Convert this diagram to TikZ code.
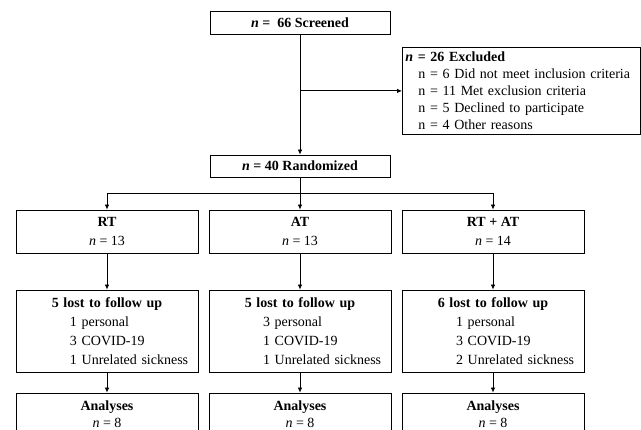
\documentclass[tikz,border=0pt]{standalone}
\usepackage{fontspec}
\setmainfont{Liberation Serif}
\usetikzlibrary{arrows.meta}

\newcommand{\headline}[1]{\makebox[182pt]{\textbf{#1}}}
\newcommand{\reason}[1]{\hspace*{54pt}#1}

\begin{document}
\begin{tikzpicture}[x=1pt, y=1pt,
    box/.style={draw, line width=0.8pt, inner sep=0pt, align=center,
        font=\fontsize{14}{19}\selectfont},
    lostbox/.style={box, text width=182, align=left, minimum height=82},
    anbox/.style={box, minimum width=182, minimum height=43,
        font=\fontsize{14}{17}\selectfont},
    arr/.style={-{Latex[length=5pt, width=4.5pt]}, line width=0.8pt}]
    \useasboundingbox (0,0) rectangle (641,-430);

    % screening and exclusion
    \node[box, minimum width=180, minimum height=23] (screen) at (300,-22.5)
        {\textbf{\textit{n} =\ \ 66 Screened}};
    \node[box, anchor=north west, minimum width=238, minimum height=87,
        text width=232, align=left, inner xsep=3pt,
        font=\fontsize{14}{17}\selectfont] (excl) at (402,-47)
        {\textbf{\textit{n} = 26 Excluded}\\
        \hspace*{13pt}n = 6 Did not meet inclusion criteria\\
        \hspace*{13pt}n = 11 Met exclusion criteria\\
        \hspace*{13pt}n = 5 Declined to participate\\
        \hspace*{13pt}n = 4 Other reasons};

    % randomisation
    \node[box, minimum width=180, minimum height=22] (rand) at (300,-166)
        {\textbf{\textit{n} = 40 Randomized}};

    \draw[arr] (screen) -- (rand);
    \coordinate (fork) at (screen.south |- excl.west);
    \draw[arr] (fork) -- (excl.west);

    % groups
    \node[box, minimum width=182, minimum height=43] (rt) at (107,-231.5)
        {\textbf{RT}\\ \textit{n} = 13};
    \node[box, minimum width=182, minimum height=43] (at) at (300,-231.5)
        {\textbf{AT}\\ \textit{n} = 13};
    \node[box, minimum width=182, minimum height=43] (rtat) at (493,-231.5)
        {\textbf{RT + AT}\\ \textit{n} = 14};

    % split to the three arms
    \coordinate (split) at (300,-193);
    \draw[line width=0.8pt] (rand) -- (split);
    \draw[line width=0.8pt] (rt.north |- split) -- (rtat.north |- split);
    \draw[arr] (rt.north |- split) -- (rt);
    \draw[arr] (split) -- (at);
    \draw[arr] (rtat.north |- split) -- (rtat);

    % lost to follow up
    \node[lostbox] (rtlost) at (107,-331)
        {\headline{5 lost to follow up}\\ \reason{1 personal}\\
        \reason{3 COVID-19}\\ \reason{1 Unrelated sickness}};
    \node[lostbox] (atlost) at (300,-331)
        {\headline{5 lost to follow up}\\ \reason{3 personal}\\
        \reason{1 COVID-19}\\ \reason{1 Unrelated sickness}};
    \node[lostbox] (rtatlost) at (493,-331)
        {\headline{6 lost to follow up}\\ \reason{1 personal}\\
        \reason{3 COVID-19}\\ \reason{2 Unrelated sickness}};

    \draw[arr] (rt) -- (rtlost);
    \draw[arr] (at) -- (atlost);
    \draw[arr] (rtat) -- (rtatlost);

    % analyses
    \node[anbox] (rtan) at (107,-414.5) {\textbf{Analyses}\\ \textit{n} = 8};
    \node[anbox] (atan) at (300,-414.5) {\textbf{Analyses}\\ \textit{n} = 8};
    \node[anbox] (rtatan) at (493,-414.5) {\textbf{Analyses}\\ \textit{n} = 8};

    \draw[arr] (rtlost) -- (rtan);
    \draw[arr] (atlost) -- (atan);
    \draw[arr] (rtatlost) -- (rtatan);
\end{tikzpicture}
\end{document}
